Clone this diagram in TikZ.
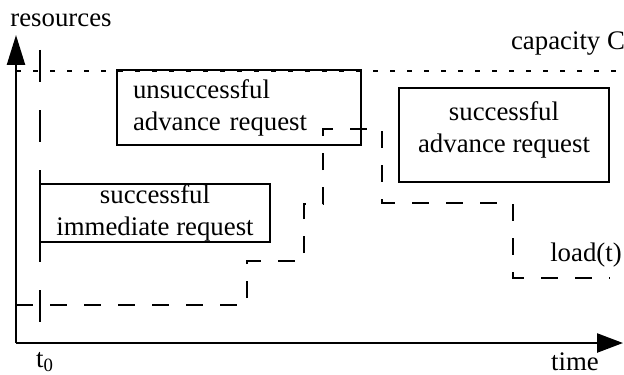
\documentclass[tikz,border=0pt]{standalone}
\usepackage{fontspec}
\setmainfont{Liberation Serif}
\usetikzlibrary{arrows.meta}

\begin{document}
\begin{tikzpicture}[x=0.5pt,y=-0.5pt,
		every node/.style={font=\fontsize{13.4}{16}\selectfont},
		reqbox/.style={draw,line width=1pt,inner sep=0pt},
		loadline/.style={line width=1pt,dash pattern=on 8.5pt off 8.5pt}]
				\useasboundingbox (0,0) rectangle (624,374);
				
				\draw[line width=1pt,dash pattern=on 2.5pt off 6pt] (16,71) -- (620,71);
				\draw[line width=1pt,dash pattern=on 16pt off 14pt] (40,50) -- (40,343);
				
				\node[reqbox,minimum width=122pt,minimum height=37.5pt,text width=106pt,align=left] (unsucc) at (239,107.5) {unsuccessful\\advance request};
				\node[reqbox,minimum width=115pt,minimum height=29pt,align=center] (immed) at (155,213) {successful\\immediate request};
				\node[reqbox,minimum width=105pt,minimum height=47pt] (advance) at (504,135) {};
				\node[align=center] (advtext) at (504,130) {successful\\advance request};
				
				\draw[loadline] (16,305) -- (247,305) -- (247,261) -- (304,261) -- (304,204) -- (323,204) -- (323,129)
					-- (382,129) -- (382,203) -- (513,203) -- (513,278) -- (610,278);
				
				\draw[line width=1.2pt,-{Triangle[length=15pt,width=9pt]}] (16,343) -- (16,35);
				\draw[line width=1.2pt,-{Triangle[length=13pt,width=9.5pt]}] (16,343) -- (623,343);
				
				\node (res) at (61,20) {resources};
				\node (cap) at (568,44) {capacity C};
				\node (tzero) at (45,362) {t\textsubscript{0}};
				\node (time) at (575,362) {time};
				\node (load) at (586,255) {load(t)};
			\end{tikzpicture}
\end{document}
